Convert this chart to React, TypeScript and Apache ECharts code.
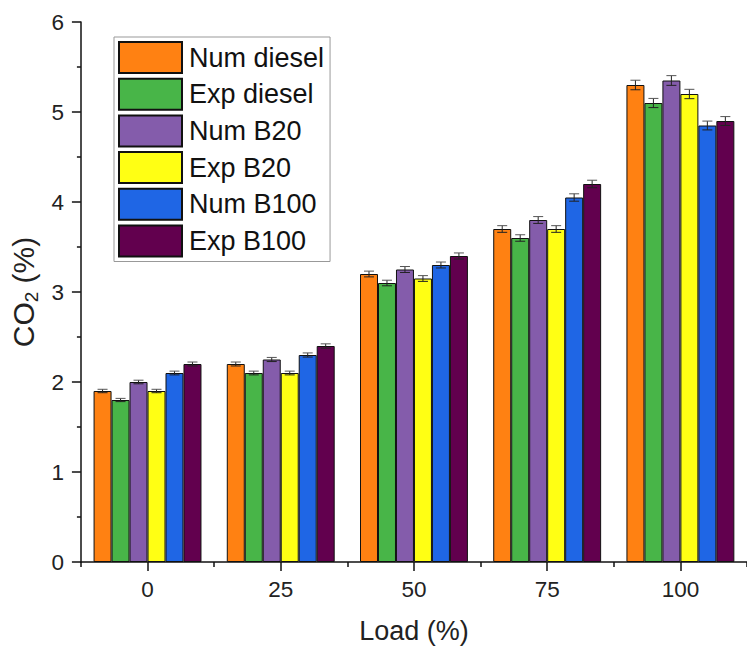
import React, { useEffect, useRef } from "react";
import * as echarts from "echarts";

const categories = ["0", "25", "50", "75", "100"];
const seriesNames = ["Num diesel", "Exp diesel", "Num B20", "Exp B20", "Num B100", "Exp B100"];
const colors = ["#FF8112", "#48B548", "#845CAB", "#FFFF14", "#1F66E5", "#62004E"];

const numDiesel = [1.9, 2.2, 3.2, 3.7, 5.3];
const expDiesel = [1.8, 2.1, 3.1, 3.6, 5.1];
const numB20 = [2.0, 2.25, 3.25, 3.8, 5.35];
const expB20 = [1.9, 2.1, 3.15, 3.7, 5.2];
const numB100 = [2.1, 2.3, 3.3, 4.05, 4.85];
const expB100 = [2.2, 2.4, 3.4, 4.2, 4.9];

const errNumDiesel = [0.019, 0.022, 0.032, 0.037, 0.053];
const errExpDiesel = [0.018, 0.021, 0.031, 0.036, 0.051];
const errNumB20 = [0.02, 0.023, 0.033, 0.038, 0.054];
const errExpB20 = [0.019, 0.021, 0.032, 0.037, 0.052];
const errNumB100 = [0.021, 0.023, 0.033, 0.041, 0.049];
const errExpB100 = [0.022, 0.024, 0.034, 0.042, 0.049];

const yTicks = [0, 1, 2, 3, 4, 5, 6];

const allValues = [numDiesel, expDiesel, numB20, expB20, numB100, expB100];
const allErrors = [errNumDiesel, errExpDiesel, errNumB20, errExpB20, errNumB100, errExpB100];

const GAP = 0.19;
const FONT = "'Liberation Sans', Arial, sans-serif";

export default function App() {
  const ref = useRef<HTMLDivElement>(null);
  useEffect(() => {
    if (!ref.current) return;
    const chart = echarts.init(ref.current, undefined, { renderer: "svg" });
    const n = seriesNames.length;
    const barSeries = seriesNames.map((name, i) => ({
      name,
      type: "bar",
      xAxisIndex: 0,
      data: allValues[i],
      barGap: "0%",
      barCategoryGap: GAP * 100 + "%",
      itemStyle: { color: colors[i], borderColor: "#111", borderWidth: 1 },
      z: 2,
    }));
    const errSeries = seriesNames.map((name, i) => ({
      name: name + " err",
      type: "custom",
      xAxisIndex: 0,
      z: 5,
      data: allValues[i].map((v, k) => [k, v, allErrors[i][k]]),
      renderItem: (params: any, api: any) => {
        const cat = api.value(0);
        const v = api.value(1);
        const e = api.value(2);
        const band = api.size([1, 0])[0];
        const groupW = band * (1 - GAP);
        const barW = groupW / n;
        const c = api.coord([cat, v]);
        const x = c[0] - groupW / 2 + barW * (i + 0.5);
        const hi = api.coord([cat, v + e])[1];
        const lo = api.coord([cat, v - e])[1];
        const cap = 5;
        const style = { stroke: "#222", lineWidth: 1 };
        return {
          type: "group",
          children: [
            { type: "line", shape: { x1: x, y1: hi, x2: x, y2: lo }, style },
            { type: "line", shape: { x1: x - cap, y1: hi, x2: x + cap, y2: hi }, style: { stroke: "#555", lineWidth: 1 } },
            { type: "line", shape: { x1: x - cap, y1: lo, x2: x + cap, y2: lo }, style },
          ],
        };
      },
    }));

    chart.setOption({
      animation: false,
      textStyle: { fontFamily: FONT },
      grid: { left: 80, right: -5, top: 22, bottom: 86, containLabel: false },
      legend: {
        data: seriesNames,
        orient: "vertical",
        left: 114,
        top: 37,
        itemWidth: 63,
        itemHeight: 31,
        itemGap: 3.7,
        padding: [4, 6, 4, 4],
        borderColor: "#999",
        borderWidth: 1,
        textStyle: { fontSize: 27, color: "#111", fontFamily: FONT, padding: [0, 0, 0, 2] },
        icon: "rect",
      },
      xAxis: [
        {
          type: "category",
          data: categories,
          name: "Load (%)",
          nameLocation: "middle",
          nameGap: 55,
          nameTextStyle: { fontSize: 27, color: "#222", fontFamily: FONT },
          axisLine: { show: true, lineStyle: { color: "#111", width: 1.5 } },
          axisTick: { show: true, alignWithLabel: true, length: 9, lineStyle: { color: "#111", width: 1.5 } },
          axisLabel: { fontSize: 22.5, color: "#222", margin: 16, fontFamily: FONT },
          splitLine: { show: false },
        },
        {
          type: "category",
          data: categories,
          position: "bottom",
          axisLine: { show: false },
          axisTick: { show: true, length: 5, lineStyle: { color: "#111", width: 1.5 } },
          axisLabel: { show: false },
          splitLine: { show: false },
        },
      ],
      yAxis: {
        type: "value",
        min: yTicks[0],
        max: yTicks[yTicks.length - 1],
        interval: 1,
        name: "{a|CO}{b|2}{a| (%)}",
        nameLocation: "middle",
        nameGap: 39,
        nameRotate: 90,
        nameTextStyle: {
          fontSize: 30,
          color: "#222",
          fontFamily: FONT,
          rich: {
            a: { fontSize: 30, color: "#222", fontFamily: FONT },
            b: { fontSize: 19, color: "#222", fontFamily: FONT, padding: [16, 0, 0, 0] },
          },
        },
        axisLine: { show: true, lineStyle: { color: "#111", width: 1.5 } },
        axisTick: { show: true, length: 9, lineStyle: { color: "#111", width: 1.5 } },
        minorTick: { show: true, splitNumber: 2, length: 4, lineStyle: { color: "#111", width: 1.5 } },
        axisLabel: { fontSize: 22.5, color: "#222", margin: 17, fontFamily: FONT },
        splitLine: { show: false },
        minorSplitLine: { show: false },
      },
      series: [...barSeries, ...errSeries],
    });
    return () => chart.dispose();
  }, []);
  return <div ref={ref} style={{ width: 747, height: 649, position: "absolute", left: 0, top: 0 }} />;
}
